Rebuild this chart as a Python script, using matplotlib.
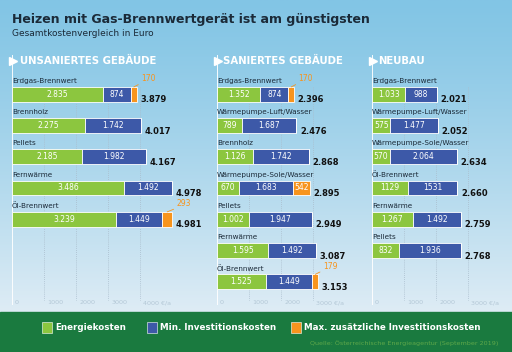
import numpy as np
import matplotlib
matplotlib.use("Agg")
import matplotlib.pyplot as plt
from matplotlib.patches import Rectangle

# Daten (Euro pro Jahr)
unsaniert_cat = ["Erdgas-Brennwert", "Brennholz", "Pellets", "Fernwärme", "Öl-Brennwert"]
unsaniert_energie = [2835, 2275, 2185, 3486, 3239]
unsaniert_invest = [874, 1742, 1982, 1492, 1449]
unsaniert_zusatz = [170, 0, 0, 0, 293]

saniert_cat = ["Erdgas-Brennwert", "Wärmepumpe-Luft/Wasser", "Brennholz",
               "Wärmepumpe-Sole/Wasser", "Pellets", "Fernwärme", "Öl-Brennwert"]
saniert_energie = [1352, 789, 1126, 670, 1002, 1595, 1525]
saniert_invest = [874, 1687, 1742, 1683, 1947, 1492, 1449]
saniert_zusatz = [170, 0, 0, 542, 0, 0, 179]

neubau_cat = ["Erdgas-Brennwert", "Wärmepumpe-Luft/Wasser", "Wärmepumpe-Sole/Wasser",
              "Öl-Brennwert", "Fernwärme", "Pellets"]
neubau_energie = [1033, 575, 570, 1129, 1267, 832]
neubau_invest = [988, 1477, 2064, 1531, 1492, 1936]
neubau_zusatz = [0, 0, 0, 0, 0, 0]

# in der Vorlage ohne Tausenderpunkt geschrieben
ohne_punkt = {("NEUBAU", 3)}

GREEN = "#8cc63f"
BLUE = "#3d59a8"
ORANGE = "#f7941d"
DARK = "#1b2a38"
BAND = "#1a7a3f"

W, H = 512, 352
PX_PER_1000 = 32.1
ROW = 31.23          # Zeilenabstand in Pixel
ROW0 = 94.3          # Mitte der ersten Zeile (Pixel von oben)
AX_TOP, AX_BOT = 55, 308
BAR_H = 0.47


def fmt(v, plain=False):
    if plain:
        return str(v)
    return f"{v:,}".replace(",", ".")


def panel(x0, xmax, title, cats, energie, invest, zusatz, ticks):
    width_px = xmax * PX_PER_1000 / 1000
    ax = fig.add_axes([x0 / W, 1 - AX_BOT / H, width_px / W, (AX_BOT - AX_TOP) / H])
    ax.set_facecolor("none")
    ax.set_xlim(0, xmax)
    ax.set_ylim((AX_BOT - ROW0) / ROW, (AX_TOP - ROW0) / ROW)
    ax.axis("off")

    top = (AX_TOP - ROW0) / ROW
    y_head = (61 - ROW0) / ROW
    y_grid0 = -BAR_H / 2
    y_grid1 = (300 - ROW0) / ROW
    y_tick = (303 - ROW0) / ROW

    # Gitter und Achse
    ax.vlines(ticks[1:], y_grid0, y_grid1, colors="#a9bccb", linestyles=(0, (1, 1.5)), lw=0.6, zorder=0)
    ax.vlines(0, top, (305 - ROW0) / ROW, colors="white", lw=1.3, zorder=1)
    ax.plot([xmax * 0.008], [y_head], marker=">", color="white", markersize=5.5, clip_on=False, zorder=2)
    ax.text(ticks[-1] * 0.06, y_head, title, color="white", fontsize=7.3, fontweight="bold",
            va="center", ha="left")
    for i, t in enumerate(ticks):
        lab = f"{t} €/a" if i == len(ticks) - 1 else str(t)
        ax.text(t + 90, y_tick, lab, color="#b4c8d6", fontsize=4.6, va="center", ha="left")

    y = np.arange(len(cats))
    e = np.array(energie)
    inv = np.array(invest)
    z = np.array(zusatz)
    kw = dict(height=BAR_H, edgecolor="white", linewidth=0.6, zorder=3)
    ax.barh(y, e, color=GREEN, **kw)
    ax.barh(y, inv, left=e, color=BLUE, **kw)
    ax.barh(y, z, left=e + inv, color=ORANGE, **kw)

    for i in range(len(cats)):
        plain = (title, i) in ohne_punkt
        ax.text(0, i - 0.43, cats[i], color=DARK, fontsize=5.2, va="center", ha="left")
        ax.text(e[i] / 2, i, fmt(e[i], plain), color="white", fontsize=5.5, va="center", ha="center", zorder=4)
        ax.text(e[i] + inv[i] / 2, i, fmt(inv[i], plain), color="white", fontsize=5.5,
                va="center", ha="center", zorder=4)
        end = e[i] + inv[i] + z[i]
        if z[i] >= 400:
            ax.text(e[i] + inv[i] + z[i] / 2, i, fmt(z[i]), color="white", fontsize=5.5,
                    va="center", ha="center", zorder=4)
        elif z[i] > 0:
            ax.annotate(fmt(z[i]), xy=(end - z[i] / 2, i - BAR_H / 2), xytext=(end + 140, i - 0.5),
                        color=ORANGE, fontsize=5.5, va="center", ha="left",
                        arrowprops=dict(arrowstyle="-", color=ORANGE, lw=0.6,
                                        shrinkA=0, shrinkB=0, relpos=(0, 0)))
        ax.text(end + 110, i + 0.18, fmt(int(end)), color="#111111", fontsize=6,
                fontweight="bold", va="center", ha="left")
    return ax


fig = plt.figure(figsize=(W / 100, H / 100), dpi=100)

# Hintergrund: Verlauf und grünes Band unten
bg = fig.add_axes([0, 0, 1, 1], zorder=-10)
bg.axis("off")
top_c = np.array([130, 197, 229]) / 255
bot_c = np.array([222, 236, 245]) / 255
t = np.linspace(0, 1, 256)[:, None] ** 1.2
grad = top_c[None, :] * (1 - t) + bot_c[None, :] * t
bg.imshow(grad[:, None, :], aspect="auto", extent=[0, 1, 40 / H, 1], origin="upper")
bg.add_patch(Rectangle((0, 0), 1, 40 / H, color=BAND))
bg.set_xlim(0, 1)
bg.set_ylim(0, 1)

fig.text(12 / W, 1 - 20 / H, "Heizen mit Gas-Brennwertgerät ist am günstigsten",
         fontsize=9.0, fontweight="bold", color=DARK, va="center")
fig.text(12 / W, 1 - 33 / H, "Gesamtkostenvergleich in Euro", fontsize=6.5, color=DARK, va="center")

panel(12, 5500, "UNSANIERTES GEBÄUDE", unsaniert_cat, unsaniert_energie, unsaniert_invest,
      unsaniert_zusatz, [0, 1000, 2000, 3000, 4000])
panel(217, 4400, "SANIERTES GEBÄUDE", saniert_cat, saniert_energie, saniert_invest,
      saniert_zusatz, [0, 1000, 2000, 3000])
panel(372, 4300, "NEUBAU", neubau_cat, neubau_energie, neubau_invest,
      neubau_zusatz, [0, 1000, 2000, 3000])

# Legende im grünen Band
legend = [("Energiekosten", GREEN, 42), ("Min. Investitionskosten", BLUE, 147),
          ("Max. zusätzliche Investitionskosten", ORANGE, 291)]
for name, col, x in legend:
    bg.add_patch(Rectangle((x / W, 1 - 333 / H), 10 / W, 11 / H, facecolor=col,
                           edgecolor="white", linewidth=0.4))
    fig.text((x + 13) / W, 1 - 327.5 / H, name, color="white", fontsize=6.3,
             fontweight="bold", va="center")

fig.text(498 / W, 1 - 343 / H, "Quelle: Österreichische Energieagentur (September 2019)",
         color="#5fa84a", fontsize=4.6, ha="right", va="center")

fig.savefig("out.png", dpi=100)
